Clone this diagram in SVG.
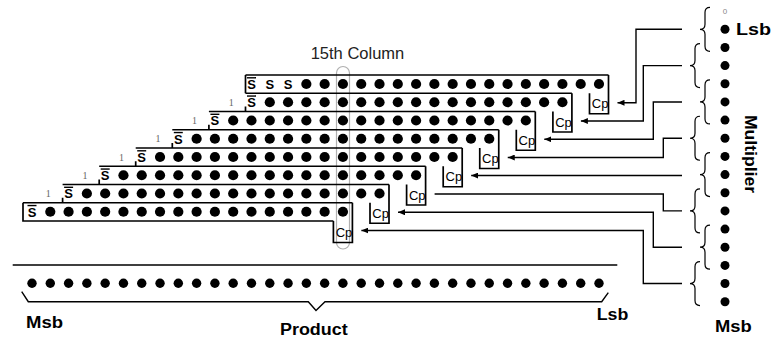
<svg xmlns="http://www.w3.org/2000/svg" width="775" height="343" viewBox="0 0 775 343">
<defs>
<style>
.ln{fill:none;stroke:#000;stroke-width:1.7}
.cn{fill:none;stroke:#000;stroke-width:1.4}
.d{fill:#000}
.s{font-family:"Liberation Sans",Arial,sans-serif;font-weight:bold;font-size:13px;text-anchor:middle;fill:#000}
.bar{stroke:#000;stroke-width:1.4}
.one{font-family:"Liberation Serif","Times New Roman",serif;font-size:10px;fill:#666;text-anchor:middle}
.cp{font-family:"Liberation Sans",Arial,sans-serif;font-size:13px;fill:#000}
.lbl{font-family:"Liberation Sans",Arial,sans-serif;font-weight:bold;font-size:16px;fill:#000}
.br{fill:none;stroke:#000;stroke-width:1.2}
</style>
<marker id="ah" markerWidth="8" markerHeight="6" refX="7" refY="3" orient="auto" markerUnits="userSpaceOnUse"><path d="M0,0 L7,3 L0,6 z" fill="#000"/></marker>
<path id="brace" d="M10,-22 Q5,-22 5,-17 V-5 Q5,0 0,0 Q5,0 5,5 V17 Q5,22 10,22"/>
<g id="d17" class="d">
<circle cx="0" cy="0" r="5.1"/><circle cx="18.29" cy="0" r="5.1"/><circle cx="36.58" cy="0" r="5.1"/><circle cx="54.87" cy="0" r="5.1"/><circle cx="73.16" cy="0" r="5.1"/><circle cx="91.45" cy="0" r="5.1"/><circle cx="109.74" cy="0" r="5.1"/><circle cx="128.03" cy="0" r="5.1"/><circle cx="146.32" cy="0" r="5.1"/><circle cx="164.61" cy="0" r="5.1"/><circle cx="182.9" cy="0" r="5.1"/><circle cx="201.19" cy="0" r="5.1"/><circle cx="219.48" cy="0" r="5.1"/><circle cx="237.77" cy="0" r="5.1"/><circle cx="256.06" cy="0" r="5.1"/><circle cx="274.35" cy="0" r="5.1"/><circle cx="292.64" cy="0" r="5.1"/>
</g>
</defs>
<rect width="775" height="343" fill="#fff"/>

<g id="column15">
<rect x="336.5" y="66.5" width="13" height="182.5" rx="6.5" fill="none" stroke="#b0b0b0" stroke-width="1.2"/>
<text x="310.7" y="59" font-family="'Liberation Sans',Arial,sans-serif" font-size="16.5" fill="#222">15th Column</text>
</g>

<g id="pp1">
<path class="ln" d="M245.5,75 H608.5 M245.5,75 V93.25"/>
<text class="s" x="251.5" y="88.8">S</text><line class="bar" x1="247" y1="77.8" x2="256" y2="77.8"/>
<text class="s" x="269.8" y="88.8">S</text>
<text class="s" x="288.1" y="88.8">S</text>
<use href="#d17" x="306.35" y="84"/>
</g>
<g id="pp2">
<path class="ln" d="M245.5,93.25 H571.9 M245.5,106.5 V111.5"/>
<text class="one" x="231.2" y="105.75">1</text>
<text class="s" x="251.5" y="107.05">S</text><line class="bar" x1="247" y1="96.05" x2="256" y2="96.05"/>
<use href="#d17" x="269.77" y="102.25"/>
</g>
<g id="pp3">
<path class="ln" d="M208.9,111.5 H535.3 M208.9,124.75 V129.75"/>
<text class="one" x="194.6" y="124">1</text>
<text class="s" x="214.9" y="125.3">S</text><line class="bar" x1="210.4" y1="114.3" x2="219.4" y2="114.3"/>
<use href="#d17" x="233.19" y="120.5"/>
</g>
<g id="pp4">
<path class="ln" d="M172.3,129.75 H498.75 M172.3,143 V148"/>
<text class="one" x="158" y="142.25">1</text>
<text class="s" x="178.3" y="143.55">S</text><line class="bar" x1="173.8" y1="132.55" x2="182.8" y2="132.55"/>
<use href="#d17" x="196.61" y="138.75"/>
</g>
<g id="pp5">
<path class="ln" d="M135.7,148 H462.2 M135.7,161.25 V166.25"/>
<text class="one" x="121.5" y="160.5">1</text>
<text class="s" x="141.7" y="161.8">S</text><line class="bar" x1="137.2" y1="150.8" x2="146.2" y2="150.8"/>
<use href="#d17" x="160.03" y="157"/>
</g>
<g id="pp6">
<path class="ln" d="M99.2,166.25 H425.6 M99.2,179.5 V184.5"/>
<text class="one" x="84.9" y="178.75">1</text>
<text class="s" x="105.2" y="180.05">S</text><line class="bar" x1="100.7" y1="169.05" x2="109.7" y2="169.05"/>
<use href="#d17" x="123.45" y="175.25"/>
</g>
<g id="pp7">
<path class="ln" d="M62.6,184.5 H389 M62.6,197.75 V202.75"/>
<text class="one" x="48.3" y="197">1</text>
<text class="s" x="68.6" y="198.3">S</text><line class="bar" x1="64.1" y1="187.3" x2="73.1" y2="187.3"/>
<use href="#d17" x="86.87" y="193.5"/>
</g>
<g id="pp8">
<path class="ln" d="M23,202.75 H352.4 M23,202.75 V221 H333.4"/>
<text class="s" x="32" y="216.55">S</text><line class="bar" x1="27.5" y1="205.55" x2="36.5" y2="205.55"/>
<use href="#d17" x="50.29" y="211.75"/>
</g>

<g id="cp1"><path class="ln" d="M608.5,75 V113.75 H589.5 V93.25"/><text class="cp" x="591.8" y="108.25">Cp</text></g>
<g id="cp2"><path class="ln" d="M571.9,93.25 V132 H552.9 V111.5"/><text class="cp" x="555.2" y="126.5">Cp</text></g>
<g id="cp3"><path class="ln" d="M535.3,111.5 V150.25 H516.3 V129.75"/><text class="cp" x="518.6" y="144.75">Cp</text></g>
<g id="cp4"><path class="ln" d="M498.75,129.75 V168.5 H479.75 V148"/><text class="cp" x="482" y="163">Cp</text></g>
<g id="cp5"><path class="ln" d="M462.2,148 V186.75 H443.2 V166.25"/><text class="cp" x="445.5" y="181.25">Cp</text></g>
<g id="cp6"><path class="ln" d="M425.6,166.25 V205 H406.6 V184.5"/><text class="cp" x="408.9" y="199.5">Cp</text></g>
<g id="cp7"><path class="ln" d="M389,184.5 V223.25 H370 V202.75"/><text class="cp" x="372.3" y="217.75">Cp</text></g>
<g id="cp8"><path class="ln" d="M352.4,202.75 V242.5 H333.4 V221"/><text class="cp" x="335.7" y="236.5">Cp</text></g>

<g id="multiplier">
<text x="725" y="14" font-family="'Liberation Sans',Arial,sans-serif" font-size="8" fill="#888" text-anchor="middle">0</text>
<g class="d">
<circle cx="725" cy="29.3" r="4.5"/><circle cx="725" cy="47.46" r="4.5"/><circle cx="725" cy="65.62" r="4.5"/><circle cx="725" cy="83.78" r="4.5"/>
<circle cx="725" cy="101.94" r="4.5"/><circle cx="725" cy="120.1" r="4.5"/><circle cx="725" cy="138.26" r="4.5"/><circle cx="725" cy="156.42" r="4.5"/>
<circle cx="725" cy="174.58" r="4.5"/><circle cx="725" cy="192.74" r="4.5"/><circle cx="725" cy="210.9" r="4.5"/><circle cx="725" cy="229.06" r="4.5"/>
<circle cx="725" cy="247.22" r="4.5"/><circle cx="725" cy="265.38" r="4.5"/><circle cx="725" cy="283.54" r="4.5"/><circle cx="725" cy="301.7" r="4.5"/>
</g>
<g class="br">
<use href="#brace" x="700" y="29.3"/>
<use href="#brace" x="690" y="65.62"/>
<use href="#brace" x="700" y="101.94"/>
<use href="#brace" x="690" y="138.26"/>
<use href="#brace" x="700" y="174.58"/>
<use href="#brace" x="690" y="210.9"/>
<use href="#brace" x="700" y="247.22"/>
<use href="#brace" x="690" y="283.54"/>
</g>
<text class="lbl" x="736" y="35" textLength="35" lengthAdjust="spacingAndGlyphs">Lsb</text>
<text class="lbl" transform="translate(745,115) rotate(90)" x="0" y="0" textLength="78" lengthAdjust="spacingAndGlyphs">Multiplier</text>
<text class="lbl" x="715" y="331.7" textLength="36.7" lengthAdjust="spacingAndGlyphs">Msb</text>
</g>

<g id="product">
<path class="cn" d="M12.7,265 H617.3 M21.7,291.7 L28.3,301.7 H308.3 L316,310.5 L325,301.7 H601.7 L608.3,292.7"/>
<g class="d">
<circle cx="32" cy="283.3" r="4.7"/><circle cx="50.29" cy="283.3" r="4.7"/><circle cx="68.58" cy="283.3" r="4.7"/><circle cx="86.87" cy="283.3" r="4.7"/>
<circle cx="105.16" cy="283.3" r="4.7"/><circle cx="123.45" cy="283.3" r="4.7"/><circle cx="141.74" cy="283.3" r="4.7"/><circle cx="160.03" cy="283.3" r="4.7"/>
<circle cx="178.32" cy="283.3" r="4.7"/><circle cx="196.61" cy="283.3" r="4.7"/><circle cx="214.9" cy="283.3" r="4.7"/><circle cx="233.19" cy="283.3" r="4.7"/>
<circle cx="251.48" cy="283.3" r="4.7"/><circle cx="269.77" cy="283.3" r="4.7"/><circle cx="288.06" cy="283.3" r="4.7"/><circle cx="306.35" cy="283.3" r="4.7"/>
<circle cx="324.64" cy="283.3" r="4.7"/><circle cx="342.93" cy="283.3" r="4.7"/><circle cx="361.22" cy="283.3" r="4.7"/><circle cx="379.51" cy="283.3" r="4.7"/>
<circle cx="397.8" cy="283.3" r="4.7"/><circle cx="416.09" cy="283.3" r="4.7"/><circle cx="434.38" cy="283.3" r="4.7"/><circle cx="452.67" cy="283.3" r="4.7"/>
<circle cx="470.96" cy="283.3" r="4.7"/><circle cx="489.25" cy="283.3" r="4.7"/><circle cx="507.54" cy="283.3" r="4.7"/><circle cx="525.83" cy="283.3" r="4.7"/>
<circle cx="544.12" cy="283.3" r="4.7"/><circle cx="562.41" cy="283.3" r="4.7"/><circle cx="580.7" cy="283.3" r="4.7"/><circle cx="598.99" cy="283.3" r="4.7"/>
</g>
<text class="lbl" x="26" y="328.3" textLength="37" lengthAdjust="spacingAndGlyphs">Msb</text>
<text class="lbl" x="280" y="335" textLength="67.7" lengthAdjust="spacingAndGlyphs">Product</text>
<text class="lbl" x="596.7" y="320" textLength="31.6" lengthAdjust="spacingAndGlyphs">Lsb</text>
</g>

<g id="connectors" class="cn">
<path d="M682,29.3 H636 V102.75 H617.5" marker-end="url(#ah)"/>
<path d="M682,65.62 H643.3 V121 H580.9" marker-end="url(#ah)"/>
<path d="M682,101.94 H653.3 V139.25 H544.3" marker-end="url(#ah)"/>
<path d="M682,138.26 H663.3 V157.5 H507.75" marker-end="url(#ah)"/>
<path d="M682,175.5 H471.2" marker-end="url(#ah)"/>
<path d="M682,210.9 H663.3 V194 H434.6"/>
<path d="M682,247.22 H653.3 V212.25 H398" marker-end="url(#ah)"/>
<path d="M682,283.54 H643.3 V230.5 H361.4" marker-end="url(#ah)"/>
</g>
</svg>
